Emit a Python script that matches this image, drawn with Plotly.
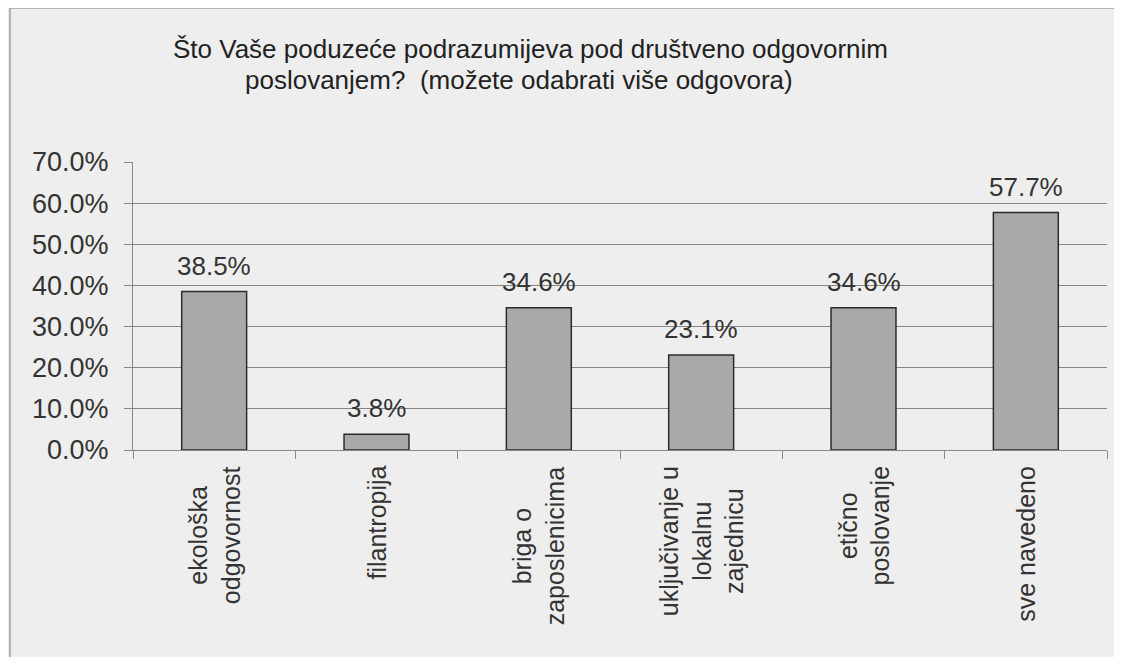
import plotly.graph_objects as go

categories = ["ekološka<br>odgovornost", "filantropija", "briga o<br>zaposlenicima",
              "uključivanje u<br>lokalnu<br>zajednicu", "etično<br>poslovanje", "sve navedeno"]
values = [38.5, 3.8, 34.6, 23.1, 34.6, 57.7]
y_ticks = [0, 10, 20, 30, 40, 50, 60, 70]
title_lines = ["Što Vaše poduzeće podrazumijeva pod društveno odgovornim",
               "poslovanjem?  (možete odabrati više odgovora)"]

OFF = 8  # page body margin
W, H = 1122 - 2 * OFF, 665 - 2 * OFF
L, T = 133 - OFF, 162 - OFF
R = W - (1107 - OFF)
B = H - (450 - OFF)
pw, ph = W - L - R, H - T - B
FONT = "Liberation Sans, Arial, sans-serif"

def px_x(px):  # reference pixel -> paper x
    return (px - OFF - L) / pw

def px_y(py):  # reference pixel -> paper y
    return (H - B - (py - OFF)) / ph

fig = go.Figure()
fig.add_trace(go.Bar(
    x=categories, y=values, width=0.4,
    marker=dict(color="#a9a9a9", line=dict(color="#2b2b2b", width=1.5)),
))

# value labels
for c, v in zip(categories, values):
    fig.add_annotation(x=c, y=v, text=f"{v:.1f}%", showarrow=False,
                       yanchor="bottom", yshift=9,
                       font=dict(size=26, color="#333333", family=FONT))

# category labels (rotated, centered lines)
for c in categories:
    fig.add_annotation(x=c, y=0, text=c, showarrow=False, textangle=-90,
                       yanchor="top", yshift=-14, align="center",
                       font=dict(size=25, color="#333333", family=FONT))

# title lines
for txt, cx, cy in zip(title_lines, [530, 519], [49, 80]):
    fig.add_annotation(xref="paper", yref="paper", x=px_x(cx), y=px_y(cy),
                       text=txt, showarrow=False, xanchor="center", yanchor="middle",
                       font=dict(size=26, color="#222222", family=FONT))

fig.add_shape(type="rect", xref="paper", yref="paper",
              x0=px_x(10), x1=px_x(1150),
              y0=px_y(700), y1=px_y(8),
              fillcolor="#eeeeee", line=dict(color="#a0a0a0", width=1.5), layer="below")

fig.update_layout(
    width=W, height=H,
    margin=dict(l=L, r=R, t=T, b=B, autoexpand=False),
    paper_bgcolor="#eeeeee", plot_bgcolor="rgba(0,0,0,0)",
    font=dict(family=FONT, color="#333333"),
    showlegend=False,
    bargap=0.6,
)
fig.update_xaxes(
    showticklabels=False,
    showline=True, linecolor="#888888", linewidth=1,
    ticks="outside", ticklen=8, tickcolor="#888888", tickson="boundaries",
    showgrid=False,
)
fig.update_yaxes(
    range=[0, 70], tickvals=y_ticks, ticktext=[f"{v:.1f}%" for v in y_ticks],
    tickfont=dict(size=27, color="#333333"), ticklabelstandoff=10,
    showline=True, linecolor="#888888", linewidth=1,
    ticks="outside", ticklen=8, tickcolor="#888888",
    showgrid=True, gridcolor="#858585", gridwidth=1,
    zeroline=False,
)

fig.write_html("out.html")
